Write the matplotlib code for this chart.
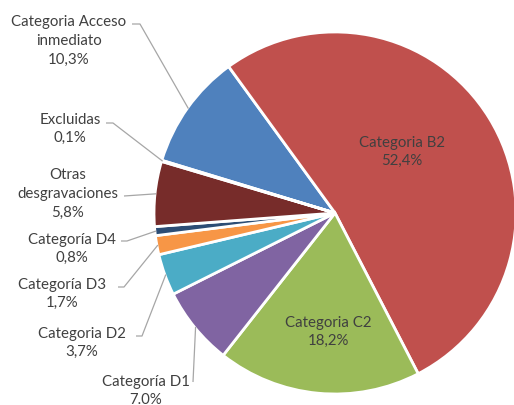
import numpy as np
import matplotlib
matplotlib.use("Agg")
import matplotlib.pyplot as plt

# ---- data ----
categories = ["Categoria Acceso\ninmediato", "Categoria B2", "Categoria C2",
              "Categoría D1", "Categoria D2", "Categoría D3", "Categoría D4",
              "Otras\ndesgravaciones", "Excluidas"]
values = [10.3, 52.4, 18.2, 7.0, 3.7, 1.7, 0.8, 5.8, 0.1]
value_labels = ["10,3%", "52,4%", "18,2%", "7.0%", "3,7%", "1,7%", "0,8%", "5,8%", "0,1%"]

colors = ["#4F81BD", "#C0504D", "#9BBB59", "#8064A2", "#4BACC6", "#F79646",
          "#2C4D75", "#772C2A", "#5F7530"]

W, H = 514, 406
fig = plt.figure(figsize=(W / 100, H / 100), dpi=100)
ax = fig.add_axes([0, 0, 1, 1])
ax.set_xlim(0, W)
ax.set_ylim(0, H)
ax.axis("off")

cx, cy = 335, H - 214
R = 181
explode = [0, 0.06, 0, 0, 0, 0, 0, 0, 0]
startangle = 90 + 36 + 10.3 * 3.6

wedges, _ = ax.pie(values, colors=colors, startangle=startangle, counterclock=False,
                   center=(cx, cy), radius=R, explode=explode,
                   wedgeprops=dict(edgecolor="white", linewidth=2.0))
ax.set_xlim(0, W)
ax.set_ylim(0, H)
ax.set_aspect("equal")

font = ["Lato", "DejaVu Sans"]
tc = "#404040"
fs = 10.8
ls = 1.42

# inside labels (index: text center in px, y down)
inside = {1: (402, 152), 2: (328, 332)}
for i, (px, py) in inside.items():
    ax.text(px, H - py, categories[i] + "\n" + value_labels[i], ha="center", va="center",
            multialignment="center", fontsize=fs, color=tc, family=font, linespacing=ls)

# outside labels: index -> (text center px, leader start px, stub length)
outside = {
    0: ((69, 41), (132, 25), 8),
    8: ((70, 129), (106, 124), 7),
    7: ((68, 194), (124, 197), 0),
    6: ((72, 249), (121, 242), 6),
    5: ((62, 294), (118, 288), 6),
    4: ((82, 343), (136, 337), 6),
    3: ((146, 391), (193, 383), 0),
}
for i, ((tx, ty), (lx, ly), stub) in outside.items():
    ax.text(tx, H - ty, categories[i] + "\n" + value_labels[i], ha="center", va="center",
            multialignment="center", fontsize=fs, color=tc, family=font, linespacing=ls)
    w = wedges[i]
    mid = np.deg2rad((w.theta1 + w.theta2) / 2)
    ex, ey = w.center[0] + (R - 1) * np.cos(mid), w.center[1] + (R - 1) * np.sin(mid)
    xs = [lx, lx + stub, ex]
    ys = [H - ly, H - ly, ey]
    ax.plot(xs, ys, color="#A6A6A6", lw=0.9, solid_capstyle="butt")

fig.savefig("out.png", dpi=100)
